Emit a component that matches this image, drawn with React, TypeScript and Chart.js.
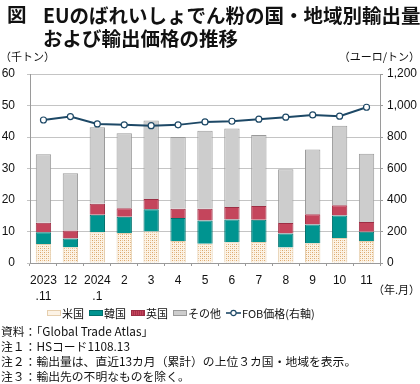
import React, { useEffect, useRef } from "react";
import { Chart, registerables } from "chart.js";

Chart.register(...registerables);

// ---- data ----
const categories: (string | string[])[] = [
  ["2023", ".11"], "12", ["2024", ".1"], "2", "3", "4", "5", "6", "7", "8", "9", "10", "11",
];
const usValues = [6.0, 5.0, 9.8, 9.5, 10.0, 7.0, 6.1, 6.6, 6.7, 4.9, 6.3, 7.9, 7.0];
const koreaValues = [3.8, 2.8, 5.5, 5.2, 7.1, 7.3, 7.4, 7.2, 7.0, 4.5, 5.9, 7.2, 2.9];
const ukValues = [3.0, 2.5, 3.5, 2.7, 3.2, 2.9, 3.7, 4.0, 4.4, 3.3, 3.3, 3.2, 3.1];
const otherValues = [21.7, 18.2, 24.3, 23.8, 24.9, 22.8, 24.8, 24.9, 22.5, 17.1, 20.5, 25.3, 21.7];
const fobPrice = [908, 930, 883, 877, 872, 877, 896, 900, 913, 926, 940, 932, 989];
const leftTicks = [0, 10, 20, 30, 40, 50, 60];
const rightTicks = [0, 200, 400, 600, 800, 1000, 1200];

const seriesNames = ["米国", "韓国", "英国", "その他", "FOB価格(右軸)"];

const NAVY = "#1d4866";
const TEAL = "#009490";
const RED = "#c4455c";
const GRAY = "#cdcdcd";
const FONT = "'Liberation Sans', Arial, sans-serif";
const JP = "'Noto Sans CJK JP', sans-serif";

function makeDotPattern(): CanvasPattern | string {
  const c = document.createElement("canvas");
  c.width = 4;
  c.height = 4;
  const g = c.getContext("2d");
  if (!g) return "#f5e6cf";
  g.fillStyle = "#fcf3e6";
  g.fillRect(0, 0, 4, 4);
  g.fillStyle = "#dba66a";
  g.fillRect(0, 0, 1, 1);
  g.fillRect(2, 2, 1, 1);
  g.fillStyle = "#eccaa0";
  g.fillRect(2, 0, 1, 1);
  g.fillRect(0, 2, 1, 1);
  const p = g.createPattern(c, "repeat");
  return p || "#f5e6cf";
}

function ChartCanvas() {
  const ref = useRef<HTMLCanvasElement | null>(null);
  useEffect(() => {
    if (!ref.current) return;
    const dot = makeDotPattern();
    const chart = new Chart(ref.current, {
      type: "bar",
      data: {
        labels: categories,
        datasets: [
          {
            type: "line",
            label: seriesNames[4],
            data: fobPrice,
            yAxisID: "y1",
            borderColor: NAVY,
            borderWidth: 2,
            pointRadius: 3,
            pointBackgroundColor: "#ffffff",
            pointBorderColor: NAVY,
            pointBorderWidth: 1.2,
            tension: 0,
            order: 0,
          } as any,
          {
            label: seriesNames[0],
            data: usValues,
            backgroundColor: dot as any,
            borderColor: "#e6cfae",
            borderWidth: 1,
            yAxisID: "y",
            stack: "s",
            order: 1,
          },
          {
            label: seriesNames[1],
            data: koreaValues,
            backgroundColor: TEAL,
            borderColor: "#00706c",
            borderWidth: 1,
            yAxisID: "y",
            stack: "s",
            order: 1,
          },
          {
            label: seriesNames[2],
            data: ukValues,
            backgroundColor: RED,
            borderColor: "#9c2e44",
            borderWidth: 1,
            yAxisID: "y",
            stack: "s",
            order: 1,
          },
          {
            label: seriesNames[3],
            data: otherValues,
            backgroundColor: GRAY,
            borderColor: "#9a9a9a",
            borderWidth: 1,
            yAxisID: "y",
            stack: "s",
            order: 1,
          },
        ],
      },
      options: {
        responsive: false,
        animation: false,
        layout: { padding: { top: 74, bottom: 81, left: 0, right: 0 } },
        plugins: { legend: { display: false }, tooltip: { enabled: false }, title: { display: false } },
        datasets: { bar: { barPercentage: 0.57, categoryPercentage: 1 } },
        scales: {
          x: {
            stacked: true,
            offset: true,
            grid: {
              display: true,
              offset: true,
              drawOnChartArea: false,
              drawTicks: true,
              tickLength: 3,
              color: "#9a9a9a",
            },
            border: { display: true, color: "#9a9a9a", width: 1 },
            ticks: {
              color: "#111",
              font: { family: FONT, size: 12, lineHeight: 1.34 },
              padding: 7,
              maxRotation: 0,
              autoSkip: false,
            },
            afterFit: (s: any) => {
              s.height = 40;
            },
          },
          y: {
            position: "left",
            stacked: true,
            min: leftTicks[0],
            max: leftTicks[leftTicks.length - 1],
            afterBuildTicks: (s: any) => {
              s.ticks = leftTicks.map((v) => ({ value: v }));
            },
            grid: {
              color: "#c4c4c4",
              drawTicks: true,
              tickLength: 3,
              lineWidth: 1,
            },
            border: { display: true, color: "#9a9a9a" },
            ticks: {
              color: "#111",
              font: { family: FONT, size: 12 },
              padding: 12,
            },
            afterFit: (s: any) => {
              s.width = 30;
            },
          },
          y1: {
            position: "right",
            min: rightTicks[0],
            max: rightTicks[rightTicks.length - 1],
            afterBuildTicks: (s: any) => {
              s.ticks = rightTicks.map((v) => ({ value: v }));
            },
            grid: {
              drawOnChartArea: false,
              drawTicks: true,
              tickLength: 3,
              color: "#9a9a9a",
            },
            border: { display: true, color: "#9a9a9a" },
            ticks: {
              color: "#111",
              font: { family: FONT, size: 12 },
              padding: 4,
              callback: (v: any) => Number(v).toLocaleString("en-US"),
            },
            afterFit: (s: any) => {
              s.width = 40;
            },
          },
        },
      } as any,
    });
    return () => chart.destroy();
  }, []);
  return (
    <canvas
      ref={ref}
      width={420}
      height={384}
      style={{ position: "absolute", left: 0, top: 0, width: 420, height: 384 }}
    />
  );
}

function Swatch({ kind }: { kind: number }) {
  const base: React.CSSProperties = {
    display: "inline-block",
    width: 14,
    height: 6,
    boxSizing: "border-box",
    verticalAlign: "middle",
  };
  if (kind === 0)
    return (
      <span
        style={{
          ...base,
          background: "radial-gradient(circle, #dba66a 35%, transparent 40%) 0 0/2px 2px, #fcf3e6",
          border: "1px solid #e6cfae",
        }}
      />
    );
  if (kind === 1) return <span style={{ ...base, background: TEAL, border: "1px solid #00706c" }} />;
  if (kind === 2)
    return (
      <span
        style={{
          ...base,
          background: `repeating-linear-gradient(90deg, ${RED} 0 1px, #a8304a 1px 2px)`,
          border: "1px solid #9c2e44",
        }}
      />
    );
  if (kind === 3) return <span style={{ ...base, background: GRAY, border: "1px solid #9a9a9a" }} />;
  return (
    <svg width={15} height={8} style={{ verticalAlign: "middle" }}>
      <line x1={0} y1={4} x2={15} y2={4} stroke={NAVY} strokeWidth={1.6} />
      <circle cx={7.5} cy={4} r={2.6} fill="#fff" stroke={NAVY} strokeWidth={1.1} />
    </svg>
  );
}

export default function App() {
  const abs = (s: React.CSSProperties): React.CSSProperties => ({ position: "absolute", ...s });
  const notes = [
    "資料：「Global Trade Atlas」",
    "注１：HSコード1108.13",
    "注２：輸出量は、直近13カ月（累計）の上位３カ国・地域を表示。",
    "注３：輸出先の不明なものを除く。",
  ];
  return (
    <div
      style={{
        position: "absolute",
        left: 0,
        top: 0,
        width: 420,
        height: 384,
        background: "#fff",
        overflow: "hidden",
        fontFamily: JP,
        color: "#111",
      }}
    >
      <ChartCanvas />
      <div style={abs({ left: 7, top: 3, fontSize: 19.5, fontWeight: 700, lineHeight: "22px" })}>図</div>
      <div style={abs({ left: 43, top: 3, fontSize: 19.5, fontWeight: 700, lineHeight: "23px", whiteSpace: "nowrap" })}>
        EUのばれいしょでん粉の国・地域別輸出量
        <br />
        および輸出価格の推移
      </div>
      <div style={abs({ left: 0, top: 49, fontSize: 11, lineHeight: "14px", whiteSpace: "nowrap" })}>（千トン）</div>
      <div style={abs({ right: 0, top: 49, fontSize: 11, lineHeight: "14px", whiteSpace: "nowrap" })}>（ユーロ/トン）</div>
      <div style={abs({ right: 0, top: 282, fontSize: 11, lineHeight: "14px", whiteSpace: "nowrap" })}>（年.月）</div>
      <div
        style={abs({
          left: 47,
          top: 306,
          height: 14,
          display: "flex",
          alignItems: "center",
          fontSize: 11,
          whiteSpace: "nowrap",
        })}
      >
        {seriesNames.map((n, i) => (
          <span key={n} style={{ display: "inline-flex", alignItems: "center", marginRight: 5 }}>
            <Swatch kind={i} />
            <span style={{ marginLeft: 1, lineHeight: "14px" }}>{n}</span>
          </span>
        ))}
      </div>
      <div style={abs({ left: 1, top: 323, fontSize: 11.8, lineHeight: "15px", whiteSpace: "nowrap" })}>
        {notes.map((t) => (
          <div key={t}>{t}</div>
        ))}
      </div>
    </div>
  );
}
